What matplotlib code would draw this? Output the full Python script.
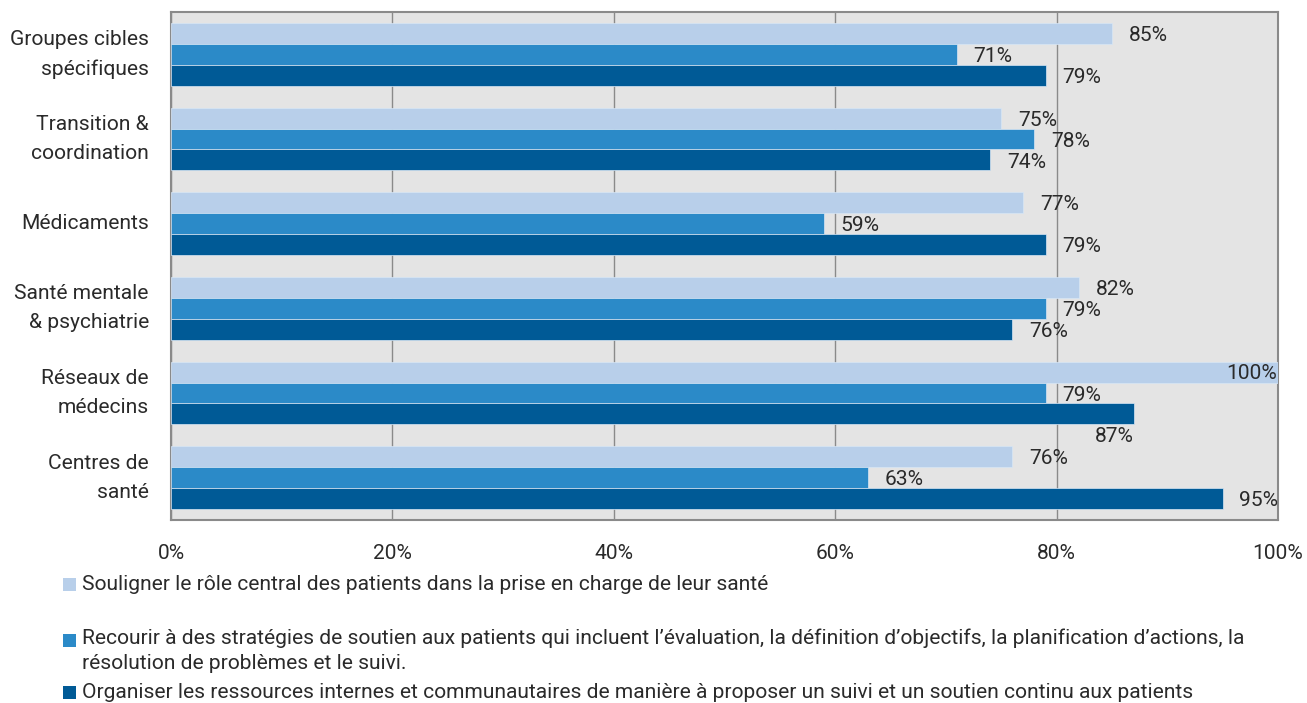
import matplotlib
matplotlib.use("Agg")
import matplotlib.pyplot as plt
from matplotlib.patches import Rectangle
from matplotlib.transforms import ScaledTranslation
import numpy as np

categories = [
    "Groupes cibles\nspécifiques",
    "Transition &\ncoordination",
    "Médicaments",
    "Santé mentale\n& psychiatrie",
    "Réseaux de\nmédecins",
    "Centres de\nsanté",
]
souligner = [85, 75, 77, 82, 100, 76]
recourir = [71, 78, 59, 79, 79, 63]
organiser = [79, 74, 79, 76, 87, 95]

series_labels = [
    "Souligner le rôle central des patients dans la prise en charge de leur santé",
    "Recourir à des stratégies de soutien aux patients qui incluent l’évaluation, la définition d’objectifs, la planification d’actions, la\nrésolution de problèmes et le suivi.",
    "Organiser les ressources internes et communautaires de manière à proposer un suivi et un soutien continu aux patients",
]
colors = ["#b8cfea", "#2b8ac8", "#005a96"]
xticks = [0, 20, 40, 60, 80, 100]

plt.rcParams["font.family"] = ["Roboto", "DejaVu Sans"]
text_color = "#2a2a2a"
fs = 15.15
fw = "normal"

fig = plt.figure(figsize=(13.07, 7.03), dpi=100)
ax = fig.add_axes([171 / 1307, 1 - 520 / 703, (1278 - 171) / 1307, (520 - 12) / 703])
ax.set_facecolor("#e4e4e4")

h = 0.248
y = np.arange(len(categories))
all_series = [souligner, recourir, organiser]
for j, (vals, col) in enumerate(zip(all_series, colors)):
    ypos = y + (j - 1) * h
    ax.barh(ypos, vals, height=h, color=col, edgecolor="#d8e6f5", linewidth=0.5, zorder=3)
    for i, (yy, v) in enumerate(zip(ypos, vals)):
        label = f"{v}%"
        if v >= 100:
            ax.annotate(label, (v, yy), xytext=(-1, -1), textcoords="offset points",
                        ha="right", va="center", fontsize=fs, color=text_color,
                        fontweight=fw, zorder=5)
        elif j == 2 and i == 4:
            ax.annotate(label, (v, yy + h), xytext=(0, -1), textcoords="offset points",
                        ha="right", va="center", fontsize=fs, color=text_color,
                        fontweight=fw, zorder=5)
        else:
            ax.annotate(label, (v, yy), xytext=(12, -1.5), textcoords="offset points",
                        ha="left", va="center", fontsize=fs, color=text_color,
                        fontweight=fw, zorder=5)

ax.set_xlim(0, 100)
ax.set_ylim(len(categories) - 0.5, -0.5)
ax.set_xticks(xticks)
ax.set_xticklabels([f"{t}%" for t in xticks], fontsize=fs, color=text_color, fontweight=fw)
ax.set_yticks(y)
ax.set_yticklabels(categories, fontsize=fs, color=text_color, fontweight=fw,
                   linespacing=1.65)
shift = ScaledTranslation(0, -2.5 / 100, fig.dpi_scale_trans)
for t in ax.get_yticklabels():
    t.set_verticalalignment("center")
    t.set_transform(t.get_transform() + shift)
ax.tick_params(axis="both", length=0)
ax.tick_params(axis="y", pad=16)
ax.tick_params(axis="x", pad=17.5)
ax.grid(axis="x", color="#8a8a8a", linewidth=1.0, zorder=1)
ax.set_axisbelow(True)
for s in ax.spines.values():
    s.set_color("#8a8a8a")
    s.set_linewidth(1.5)

# legend drawn below the plot area
legend_rows = [584, 640, 692]
for lab, col, ry in zip(series_labels, colors, legend_rows):
    fig.patches.append(Rectangle((63 / 1307, 1 - (ry + 7) / 703), 13 / 1307, 13 / 703,
                                 transform=fig.transFigure, facecolor=col, edgecolor="none"))
    if "\n" in lab:
        fig.text(82 / 1307, 1 - (ry - 12) / 703, lab, ha="left", va="top",
                 fontsize=fs, color=text_color, fontweight=fw, linespacing=1.4)
    else:
        fig.text(82 / 1307, 1 - ry / 703, lab, ha="left", va="center",
                 fontsize=fs, color=text_color, fontweight=fw)

fig.savefig("out.png", dpi=100, facecolor="white")
